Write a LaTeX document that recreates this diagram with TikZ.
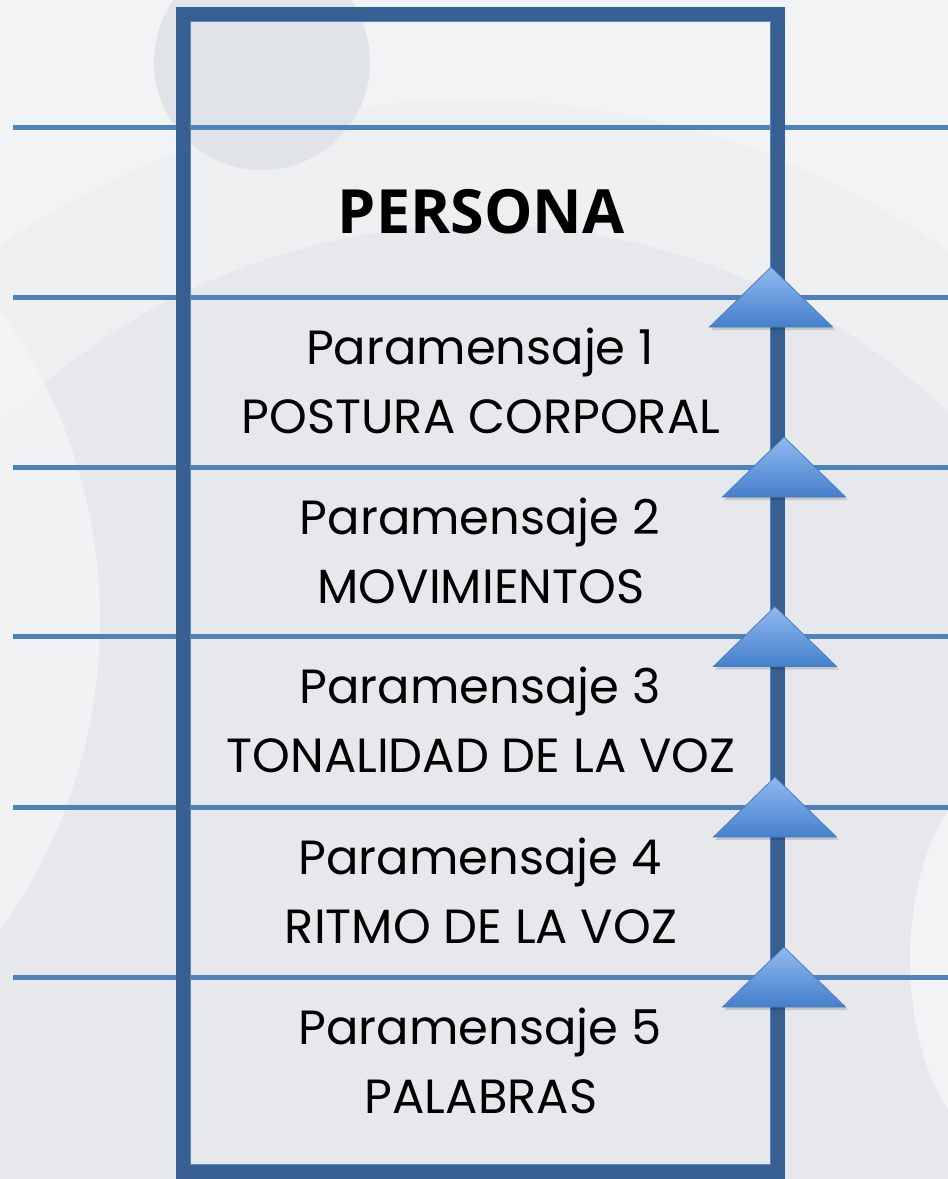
\documentclass[tikz,border=0pt]{standalone}
\usepackage{fontspec}
\setmainfont{Poppins}
\newfontfamily\headfont{Open Sans}
\definecolor{bgLight}{HTML}{F2F3F5}
\definecolor{bgMid}{HTML}{EDEFF1}
\definecolor{bgDark}{HTML}{E6E8EB}
\definecolor{bgCircle}{HTML}{E0E3E7}
\definecolor{bgWhite}{HTML}{F6F7F8}
\definecolor{rule}{HTML}{4F81BD}
\definecolor{frame}{HTML}{385F91}
\definecolor{frameEdge}{HTML}{5A87C2}
\definecolor{triTop}{HTML}{90BAF0}
\definecolor{triBot}{HTML}{4580CC}
\definecolor{triEdge}{HTML}{4A7DBE}
\tikzset{
  ruleline/.style={draw=rule, line width=5pt},
  framebox/.style={draw=frame, line width=14pt},
  lbl/.style={anchor=base, font=\fontsize{48}{52}\selectfont, text=black, inner sep=0pt},
  head/.style={anchor=base, font=\headfont\bfseries\fontsize{61}{66}\selectfont, text=black, inner sep=0pt},
  tri/.style={top color=triTop, bottom color=triBot, draw=triEdge, line width=0.8pt, line join=miter},
  trishadow/.style={fill=black, opacity=0.14}
}
\begin{document}
\begin{tikzpicture}[x=1pt,y=-1pt]
\useasboundingbox (0,0) rectangle (948,1179);
% background
\fill[bgLight] (0,0) rectangle (948,1179);
\begin{scope}
\clip (0,0) rectangle (948,1179);
\fill[bgMid] (470,930) circle[radius=830pt];
\fill[bgDark] (480,904) circle[radius=679pt];
\fill[bgWhite, opacity=0.7] (-430,620) circle[radius=530pt];
\fill[bgCircle] (262,62) circle[radius=108pt];
\fill[bgLight] (1010,960) ellipse[x radius=100pt, y radius=190pt];
\end{scope}
% horizontal rules
\foreach \y [count=\i] in {127,297,467,636.5,807,977} {
  \coordinate (L\i) at (13,\y);
  \coordinate (R\i) at (948,\y);
  \draw[ruleline] (L\i) -- (R\i);
}
% frame
\coordinate (boxNW) at (183,14);
\coordinate (boxSE) at (778,1172);
\draw[framebox] (boxNW) rectangle (boxSE);
\draw[frameEdge, line width=1pt] (190.5,21.5) rectangle (770.5,1164.5);
% triangles
\foreach \cx/\yl in {771/297, 784/467, 775/636.5, 775/807, 784/977} {
  \fill[trishadow] (\cx-60,\yl+33) -- (\cx+2,\yl-27) -- (\cx+64,\yl+33) -- cycle;
  \shade[tri] (\cx-61.5,\yl+30) -- (\cx,\yl-30) -- (\cx+61.5,\yl+30) -- cycle;
}
% texts
\node[head] (persona) at (481,233) {PERSONA};
\node[lbl] (p1) at (480,364) {Paramensaje 1};
\node[lbl] (t1) at (481,433) {POSTURA CORPORAL};
\node[lbl] (p2) at (480,534) {Paramensaje 2};
\node[lbl] (t2) at (481,603) {MOVIMIENTOS};
\node[lbl] (p3) at (480,703) {Paramensaje 3};
\node[lbl] (t3) at (481,772) {TONALIDAD DE LA VOZ};
\node[lbl] (p4) at (480,874) {Paramensaje 4};
\node[lbl] (t4) at (481,943) {RITMO DE LA VOZ};
\node[lbl] (p5) at (480,1044) {Paramensaje 5};
\node[lbl] (t5) at (481,1113) {PALABRAS};
\end{tikzpicture}
\end{document}
